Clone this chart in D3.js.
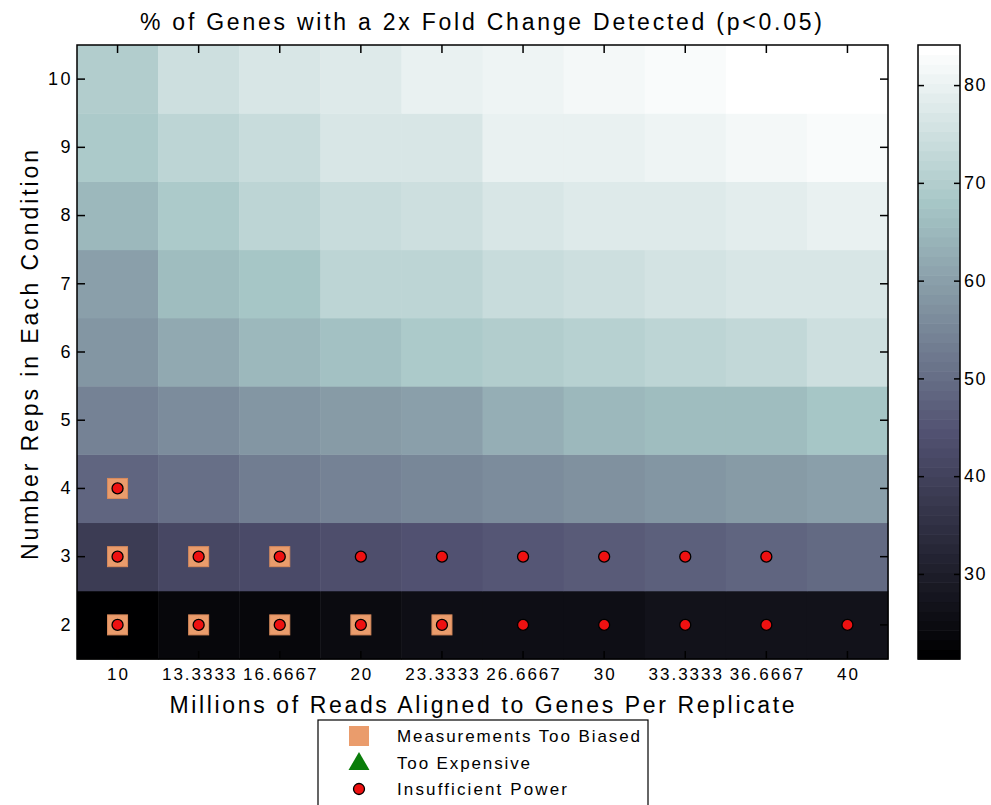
<!DOCTYPE html>
<html><head><meta charset="utf-8">
<script src="https://cdn.jsdelivr.net/npm/d3@7"></script>
<style>body{margin:0;background:#fff}svg{display:block;font-family:"Liberation Sans",Arial,sans-serif}</style>
</head><body><svg id="c" width="991" height="805"></svg>
<script>
// ---- data ----
const readsLabels = ["10","13.3333","16.6667","20","23.3333","26.6667","30","33.3333","36.6667","40"];
const reps = [2,3,4,5,6,7,8,9,10];
const pctReps2  = [21.3,23.5,24.2,24.8,25.3,25.8,26.1,26.4,26.7,27.0];
const pctReps3  = [38.2,41.0,42.4,43.8,44.8,45.2,46.1,47.0,48.0,49.4];
const pctReps4  = [48.2,50.2,53.3,54.3,55.3,56.3,57.3,58.4,59.4,60.4];
const pctReps5  = [53.9,55.9,58.4,59.4,60.4,63.4,64.5,65.5,66.1,67.5];
const pctReps6  = [58.0,62.1,64.5,67.0,68.6,69.5,70.6,72.0,72.8,74.8];
const pctReps7  = [60.4,65.5,68.2,71.4,72.0,73.7,74.8,75.6,76.5,77.1];
const pctReps8  = [64.9,69.2,71.4,74.2,74.8,77.1,77.6,77.9,78.4,79.9];
const pctReps9  = [68.6,72.3,74.2,76.5,77.1,79.3,79.9,80.7,81.3,82.7];
const pctReps10 = [70.0,74.8,76.3,77.6,79.3,80.7,81.6,82.7,84.1,84.1];
const biasedReads = ["10","10","13.3333","16.6667","10","13.3333","16.6667","20","23.3333"];
const biasedReps  = [4,3,3,3,2,2,2,2,2];
const powerReads = ["10","10","13.3333","16.6667","20","23.3333","26.6667","30","33.3333","36.6667",
                    "10","13.3333","16.6667","20","23.3333","26.6667","30","33.3333","36.6667","40"];
const powerReps  = [4,3,3,3,3,3,3,3,3,3,2,2,2,2,2,2,2,2,2,2];
const colorbarTicks = [30,40,50,60,70,80];
const legendLabels = ["Measurements Too Biased","Too Expensive","Insufficient Power"];

const rows = [pctReps2,pctReps3,pctReps4,pctReps5,pctReps6,pctReps7,pctReps8,pctReps9,pctReps10];
const cells = [];
rows.forEach((arr,i)=>arr.forEach((v,j)=>cells.push({rep:reps[i],reads:readsLabels[j],v})));

// ---- MATLAB-like bone colormap (64 levels) ----
const M = 64, n1 = Math.floor(3/8*M);
const bone = d3.range(M).map(i=>{
  const g = i/(M-1);
  const hr = i < n1 ? (i+1)/n1 : 1;
  const hg = i < n1 ? 0 : (i < 2*n1 ? (i-n1+1)/n1 : 1);
  const hb = i < 2*n1 ? 0 : (i-2*n1+1)/(M-2*n1);
  return d3.rgb(255*(7*g+hb)/8, 255*(7*g+hg)/8, 255*(7*g+hr)/8);
});
const [cmin,cmax] = d3.extent(cells,d=>d.v);
const colorIdx = v => Math.max(0, Math.min(M-1, Math.floor((v-cmin)/(cmax-cmin)*M)));
const color = v => bone[colorIdx(v)];

// ---- layout ----
const svg = d3.select("#c");
const L=77,R=888,T=45,B=659;
const x = d3.scaleBand().domain(readsLabels).range([L,R]);
const y = d3.scaleBand().domain(reps.slice().reverse()).range([T,B]);

svg.append("g").selectAll("rect").data(cells).join("rect")
  .attr("x",d=>x(d.reads)).attr("y",d=>y(d.rep))
  .attr("width",x.bandwidth()+0.5).attr("height",y.bandwidth()+0.5)
  .attr("fill",d=>color(d.v));

// markers
svg.append("g").selectAll("rect").data(biasedReads.map((r,i)=>({reads:r,rep:biasedReps[i]}))).join("rect")
  .attr("x",d=>x(d.reads)+x.bandwidth()/2-10).attr("y",d=>y(d.rep)+y.bandwidth()/2-10)
  .attr("width",20).attr("height",20).attr("fill","#EA9C6C").attr("stroke","#d88a5c").attr("stroke-width",1);
svg.append("g").selectAll("circle").data(powerReads.map((r,i)=>({reads:r,rep:powerReps[i]}))).join("circle")
  .attr("cx",d=>x(d.reads)+x.bandwidth()/2).attr("cy",d=>y(d.rep)+y.bandwidth()/2)
  .attr("r",5.5).attr("fill","#EE1111").attr("stroke","#000").attr("stroke-width",1.3);

// axes with inward ticks
const tk = 8, ls = 2;
const axB = svg.append("g").attr("transform",`translate(0,${B})`).call(d3.axisBottom(x).tickSizeInner(-tk).tickSizeOuter(0).tickPadding(9));
const axT = svg.append("g").attr("transform",`translate(0,${T})`).call(d3.axisTop(x).tickSizeInner(-tk).tickSizeOuter(0).tickFormat(""));
const axLf = svg.append("g").attr("transform",`translate(${L},0)`).call(d3.axisLeft(y).tickSizeInner(-tk).tickSizeOuter(0).tickPadding(6-ls));
const axRt = svg.append("g").attr("transform",`translate(${R},0)`).call(d3.axisRight(y).tickSizeInner(-tk).tickSizeOuter(0).tickFormat(""));
[axB,axT,axLf,axRt].forEach(a=>{a.select(".domain").remove();a.selectAll("line").attr("stroke","#000").attr("stroke-width",1.5);});
axB.selectAll("text").attr("font-size",17).attr("fill","#000").attr("font-family","Liberation Sans")
  .attr("letter-spacing",ls+"px").attr("dx",ls/2);
axLf.selectAll("text").attr("font-size",18).attr("fill","#000").attr("font-family","Liberation Sans")
  .attr("letter-spacing","2.5px");
svg.append("rect").attr("x",L).attr("y",T).attr("width",R-L).attr("height",B-T)
  .attr("fill","none").attr("stroke","#000").attr("stroke-width",1.5);

// titles
svg.append("text").attr("x",481).attr("y",30).attr("text-anchor","middle").attr("font-size",23)
  .attr("textLength",682).attr("lengthAdjust","spacing")
  .text("% of Genes with a 2x Fold Change Detected (p<0.05)");
svg.append("text").attr("x",482).attr("y",713).attr("text-anchor","middle").attr("font-size",23)
  .attr("textLength",625).attr("lengthAdjust","spacing")
  .text("Millions of Reads Aligned to Genes Per Replicate");
svg.append("text").attr("transform","translate(38,355) rotate(-90)").attr("text-anchor","middle").attr("font-size",23)
  .attr("textLength",410).attr("lengthAdjust","spacing")
  .text("Number Reps in Each Condition");

// colorbar
const CL=918,CR=960;
const cy = d3.scaleLinear().domain([cmin,cmax]).range([B,T]);
svg.append("g").selectAll("rect").data(d3.range(M)).join("rect")
  .attr("x",CL).attr("width",CR-CL)
  .attr("y",i=>cy(cmin+(i+1)*(cmax-cmin)/M)).attr("height",(B-T)/M+0.6)
  .attr("fill",i=>bone[i]);
const cbAx = svg.append("g").attr("transform",`translate(${CR},0)`).call(d3.axisRight(cy).tickValues(colorbarTicks).tickSizeInner(-6).tickSizeOuter(0).tickPadding(4));
const cbAxL = svg.append("g").attr("transform",`translate(${CL},0)`).call(d3.axisLeft(cy).tickValues(colorbarTicks).tickSizeInner(-6).tickSizeOuter(0).tickFormat(""));
[cbAx,cbAxL].forEach(a=>{a.select(".domain").remove();a.selectAll("line").attr("stroke","#000").attr("stroke-width",1.5);});
cbAx.selectAll("text").attr("font-size",18).attr("fill","#000").attr("font-family","Liberation Sans")
  .attr("letter-spacing","1.5px");
svg.append("rect").attr("x",CL).attr("y",T).attr("width",CR-CL).attr("height",B-T)
  .attr("fill","none").attr("stroke","#000").attr("stroke-width",1.5);

// legend
const lg = svg.append("g");
lg.append("rect").attr("x",318).attr("y",720).attr("width",330).attr("height",110)
  .attr("fill","#fff").attr("stroke","#000").attr("stroke-width",1.2);
const ly = [736,763,789];
lg.append("rect").attr("x",349).attr("y",ly[0]-10).attr("width",20).attr("height",20).attr("fill","#EA9C6C");
lg.append("path").attr("d",d3.symbol(d3.symbolTriangle,190)()).attr("transform",`translate(359,${ly[1]+1})`).attr("fill","#0a7d0a");
lg.append("circle").attr("cx",359).attr("cy",ly[2]).attr("r",5.5).attr("fill","#EE1111").attr("stroke","#000").attr("stroke-width",1.3);
const lw = [243,133,170];
lg.selectAll("text.l").data(legendLabels).join("text").attr("class","l")
  .attr("x",397).attr("y",(d,i)=>ly[i]+6).attr("font-size",17)
  .attr("textLength",(d,i)=>lw[i]).attr("lengthAdjust","spacing").text(d=>d);
</script></body></html>
